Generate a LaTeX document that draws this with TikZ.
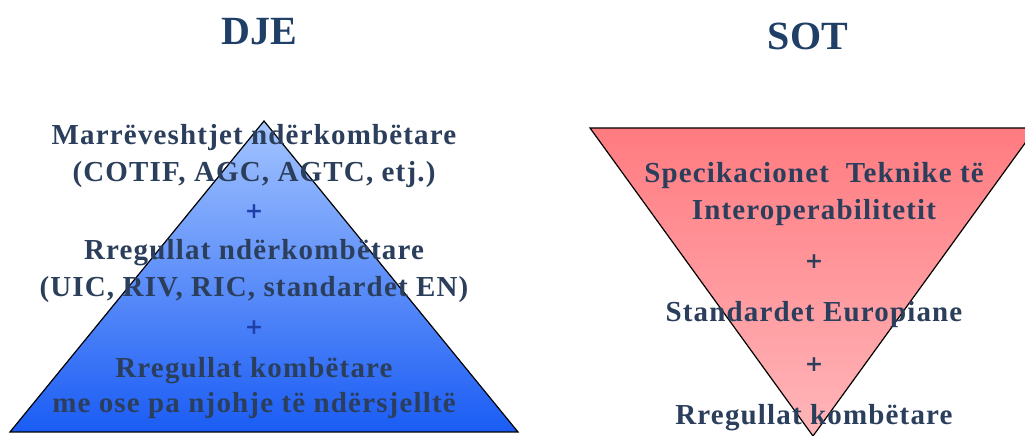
\documentclass[tikz,border=0pt]{standalone}
\usepackage{fontspec}
\newfontfamily\titlefont{Liberation Serif}
\newfontfamily\bodyfont[LetterSpace=4]{Liberation Serif}
\newfontfamily\plusfont{DejaVu Serif}
\usetikzlibrary{shadings}
\definecolor{titleblue}{HTML}{1F3F66}
\definecolor{textslate}{HTML}{2B3F5C}
\definecolor{plusblue}{HTML}{1F3FA8}
\definecolor{bluetop}{HTML}{A4C4FF}
\definecolor{bluebot}{HTML}{1A5CF4}
\definecolor{redtop}{HTML}{FF7B80}
\definecolor{redbot}{HTML}{FFB6BA}
\tikzset{
  title/.style={font=\titlefont\bfseries\fontsize{40}{44}\selectfont, text=titleblue, anchor=base},
  line/.style={font=\bodyfont\bfseries\fontsize{29}{32}\selectfont, text=textslate, anchor=base, inner sep=0pt},
  plus/.style={font=\plusfont\bfseries\fontsize{22}{24}\selectfont, anchor=center, inner sep=0pt},
}
\begin{document}
\begin{tikzpicture}[x=1pt,y=1pt]
\clip (0,0) rectangle (1025,436);
\fill[white] (0,0) rectangle (1025,436);
% pyramid
\shade[top color=bluetop, bottom color=bluebot, draw=black, line width=1.2pt]
  (264,315) -- (518,4) -- (10,4) -- cycle;
% inverted pyramid
\shade[top color=redtop, bottom color=redbot, draw=black, line width=1.2pt]
  (590,308) -- (1036,308) -- (813,0) -- cycle;
% titles
\node[title] (dje) at (259,391) {DJE};
\node[title] (sot) at (808,386) {SOT};
% left column
\node[line] (l1) at (254,291) {Marrëveshtjet ndërkombëtare};
\node[line] (l2) at (254,254) {(COTIF, AGC, AGTC, etj.)};
\node[plus, text=plusblue] (p1) at (254,224) {+};
\node[line] (l3) at (254,176) {Rregullat ndërkombëtare};
\node[line] (l4) at (254,139) {(UIC, RIV, RIC, standardet EN)};
\node[plus, text=plusblue] (p2) at (254,108) {+};
\node[line] (l5) at (254,58) {Rregullat kombëtare};
\node[line] (l6) at (254,23) {me ose pa njohje të ndërsjelltë};
% right column
\node[line] (r1) at (814,253) {Specikacionet\ \ Teknike të};
\node[line] (r2) at (814,216) {Interoperabilitetit};
\node[plus, text=textslate] (p3) at (814,174) {+};
\node[line] (r3) at (814,114) {Standardet Europiane};
\node[plus, text=textslate] (p4) at (814,71) {+};
\node[line] (r4) at (814,11) {Rregullat kombëtare};
\end{tikzpicture}
\end{document}
